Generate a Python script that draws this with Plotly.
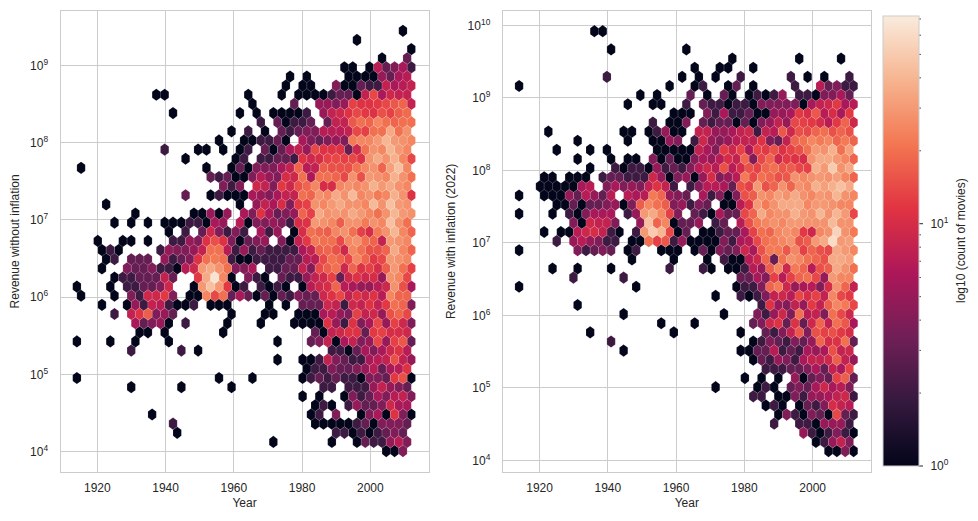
import math
import plotly.graph_objects as go

W, H = 978, 521

# Hex-bin grid: year of first bin, bin width, log10 revenue of rows
year_min = 1914.0
year_step = 2.45
left_log_bottom, left_log_step = 4.007, 0.1183
right_log_bottom, right_log_step = 4.128, 0.1259
n_rows = 47

# counts per hex: row (0 = top) -> {column: count}
left_rows = {
0:{39:1},
1:{33:1},
2:{40:1},
3:{36:1,39:3},
4:{32:1,33:1,35:1,36:7,37:3,38:4,39:6,40:2},
5:{25:1,27:1,32:1,33:1,34:1,35:1,36:5,37:3,38:6,39:7},
6:{25:1,27:1,28:1,31:4,32:1,33:1,34:3,35:2,36:2,37:8,38:6,39:7,40:8},
7:{9:1,10:1,20:1,24:1,26:1,27:1,28:1,29:1,30:2,31:3,32:3,33:1,34:8,35:14,36:6,37:9,38:8,39:8},
8:{21:1,26:3,29:5,30:5,31:4,32:5,33:13,34:11,35:11,36:12,37:14,38:16,39:18,40:8},
9:{11:1,19:1,21:1,23:1,24:1,25:1,26:1,27:2,29:5,30:8,31:9,32:11,33:14,34:12,35:11,36:15,37:13,38:17,39:19},
10:{22:2,24:3,25:1,26:2,27:2,28:3,30:3,31:8,32:8,33:16,34:20,35:18,36:25,37:20,38:18,39:20,40:20},
11:{18:1,20:2,22:1,24:3,25:2,26:3,27:4,28:4,29:7,30:7,31:7,32:8,33:14,34:13,35:20,36:20,37:35,38:20,39:28},
12:{17:1,20:1,21:1,22:2,23:2,24:3,25:1,27:6,28:4,29:3,30:4,31:5,32:4,33:22,34:25,35:25,36:30,37:40,38:30,39:28,40:25},
13:{10:2,14:1,15:1,17:1,19:1,20:2,22:3,23:1,24:3,25:6,26:8,27:5,28:14,29:11,30:11,31:11,32:3,33:9,34:20,35:28,36:25,37:40,38:30,39:25},
14:{13:1,19:1,20:2,22:2,23:2,24:3,25:3,26:2,27:11,28:9,29:10,30:13,31:14,32:13,33:14,34:11,35:28,36:35,37:28,38:38,39:25,40:14},
15:{0:1,15:1,18:1,19:3,20:1,21:4,22:4,23:4,24:6,25:8,26:18,27:7,28:8,29:17,30:15,31:15,32:15,33:20,34:25,35:28,36:18,37:32,38:45,39:25},
16:{16:3,17:2,18:3,19:1,20:1,21:4,22:7,23:5,24:4,25:10,26:9,27:20,28:6,29:20,30:20,31:18,32:14,33:28,34:15,35:30,36:28,37:25,38:38,39:28,40:20},
17:{17:4,18:2,19:4,21:9,22:8,23:4,24:12,25:9,26:15,27:18,28:25,29:10,30:10,31:25,32:28,33:25,34:28,35:38,36:30,37:35,38:28,39:25},
18:{13:3,16:1,17:2,18:1,19:1,20:1,21:6,22:5,23:4,24:6,25:8,26:8,27:20,28:18,29:28,30:25,31:35,32:28,33:42,34:25,35:28,36:22,37:25,38:38,39:28,40:11},
19:{3:1,19:1,21:5,22:8,23:6,24:10,25:4,26:12,27:13,28:28,29:25,30:30,31:35,32:28,33:28,34:25,35:42,36:28,37:45,38:30,39:28},
20:{7:1,14:1,15:1,16:5,17:1,18:5,20:6,21:4,22:11,23:6,24:3,25:4,26:5,27:18,28:13,29:35,30:28,31:30,32:28,33:35,34:30,35:25,36:20,37:28,38:40,39:30,40:28},
21:{4:1,6:1,8:1,10:1,11:1,12:1,13:2,14:2,15:1,16:6,17:5,19:7,20:1,21:4,22:4,23:5,24:4,25:2,26:10,27:11,28:30,29:28,30:25,31:17,32:28,33:28,34:22,35:28,36:25,37:45,38:28,39:20},
22:{11:1,13:2,15:3,16:9,17:4,18:2,19:4,20:2,22:6,23:2,24:5,26:1,27:10,28:20,29:18,30:17,31:25,32:28,33:20,34:13,35:10,36:22,37:28,38:40,39:25,40:18},
23:{2:1,5:1,6:1,8:1,11:2,12:2,13:5,14:4,15:11,16:15,17:11,18:4,19:1,20:3,21:4,22:5,24:4,25:1,26:8,27:12,28:22,29:20,30:20,31:14,32:25,33:28,34:20,35:18,36:8,37:30,38:28,39:25},
24:{3:1,4:2,5:1,10:2,11:5,12:4,13:4,14:5,15:8,16:20,17:20,18:7,19:2,20:5,21:2,22:3,23:2,24:2,25:2,26:2,27:6,28:8,29:17,30:18,31:15,32:9,33:25,34:20,35:15,36:15,37:18,38:35,39:25,40:18},
25:{3:1,4:2,6:3,7:3,8:3,10:5,11:2,12:3,13:4,14:11,15:20,16:22,17:20,18:2,19:1,20:1,21:2,22:2,23:2,24:2,25:3,26:3,27:7,28:7,29:14,30:20,31:18,32:14,33:25,34:18,35:12,36:14,37:30,38:28,39:25},
26:{3:1,6:4,7:3,8:3,9:4,10:2,11:2,12:1,13:7,14:9,15:30,16:35,17:28,18:20,19:4,20:4,21:6,23:2,24:2,25:3,26:3,27:8,28:4,29:14,30:17,31:20,32:9,33:18,34:11,35:13,36:10,37:17,38:30,39:20,40:13},
27:{4:1,5:2,6:2,7:3,8:3,9:3,10:8,11:3,14:12,15:35,16:65,17:25,18:1,20:4,21:2,22:1,24:3,25:2,26:2,27:5,28:8,29:9,30:13,31:3,32:9,33:11,34:9,35:10,36:5,37:28,38:25,39:14},
28:{0:1,4:1,6:2,7:2,8:3,9:3,10:4,11:9,14:1,15:30,16:45,17:30,18:12,19:1,20:2,22:2,23:1,24:2,25:1,27:1,28:7,29:9,30:10,31:18,32:7,33:6,34:5,35:5,36:7,37:9,38:28,39:15,40:6},
29:{0:1,4:1,6:4,7:2,8:9,9:9,10:12,11:4,13:1,14:1,15:25,16:14,17:20,18:3,19:6,20:3,21:1,22:3,23:1,24:3,25:2,26:4,27:3,28:3,29:9,30:11,31:14,32:8,33:11,34:9,35:11,36:7,37:25,38:18,39:18},
30:{3:1,6:1,7:5,8:2,9:8,10:7,11:2,12:1,13:1,14:2,16:1,17:1,18:1,23:1,25:1,27:3,28:3,29:3,30:9,31:8,32:2,33:9,34:8,35:11,36:8,37:12,38:20,39:18,40:4},
31:{4:2,6:8,7:11,8:17,9:4,10:5,11:3,18:1,22:1,23:1,26:1,27:1,28:1,29:6,30:7,31:5,32:4,33:13,34:8,35:9,36:5,37:15,38:18,39:14},
32:{7:6,8:3,9:4,10:5,11:1,13:2,18:1,22:1,26:1,27:1,28:1,29:1,30:11,31:5,32:2,33:11,34:4,35:6,36:14,37:5,38:13,39:9,40:4},
33:{7:1,8:1,10:1,17:1,28:3,29:1,30:8,31:9,32:11,33:11,34:3,35:12,36:13,37:10,38:10,39:9},
34:{0:1,4:1,7:1,11:1,24:1,28:3,29:4,30:8,31:1,32:6,33:8,34:4,35:5,36:14,37:5,38:13,39:16,40:3},
35:{6:2,12:2,14:1,30:2,31:2,32:1,33:3,34:6,35:4,36:6,37:9,38:11,39:7},
36:{24:1,27:1,28:1,29:2,30:8,31:4,32:3,33:2,34:2,35:6,36:7,37:8,38:15,39:8,40:5},
37:{27:1,28:2,29:2,30:4,31:3,32:3,33:4,34:5,35:7,36:3,37:6,38:7,39:11},
38:{0:1,17:1,21:1,27:1,28:2,29:3,30:2,31:3,32:2,33:2,34:1,35:4,36:4,37:3,38:12,39:15,40:1},
39:{6:1,12:1,18:1,29:2,30:2,32:2,33:2,34:2,35:5,36:8,37:5,38:4,39:3},
40:{27:1,29:1,32:1,33:4,34:2,35:3,36:6,37:4,38:7,39:8,40:4},
41:{28:1,29:2,30:1,32:2,33:5,34:3,35:3,36:4,37:9,38:6,39:6},
42:{9:1,28:1,29:2,31:4,34:1,35:4,36:6,37:1,38:11,39:4,40:1},
43:{11:2,28:1,29:1,30:1,31:1,32:1,33:2,34:3,35:1,36:4,37:4,38:4,39:3},
44:{12:1,31:2,32:2,33:1,34:2,35:1,36:2,37:3,38:4,39:3},
45:{23:1,30:1,33:1,34:3,35:2,36:2,37:5,38:7,39:4},
46:{37:1,38:1,39:4},
}

right_rows = {
0:{9:1,10:1},
2:{11:1,20:1},
3:{25:1,33:1,38:1},
4:{21:1,24:1,25:1,28:1},
5:{10:2,19:1,21:1,23:1,26:2,32:2,34:1,36:1,39:2},
6:{0:1,18:1,21:1,22:2,25:1,26:3,28:1,33:2,36:7,37:3,38:4,39:2,40:2},
7:{14:1,16:1,20:3,22:1,24:3,25:1,27:1,28:2,29:1,30:2,31:5,33:2,34:2,35:1,36:4,37:4,38:6,39:3},
8:{13:1,16:1,17:1,20:2,22:3,23:2,24:2,25:1,26:2,27:2,28:1,29:4,30:4,31:4,32:4,33:4,34:1,35:6,36:8,37:9,38:12,39:6,40:7},
9:{18:1,19:1,20:1,22:4,23:2,24:6,25:2,26:2,27:3,28:1,29:1,30:5,31:5,32:6,33:12,34:10,35:16,36:7,37:10,38:6,39:12},
10:{16:2,18:1,19:1,20:4,22:3,23:2,24:3,25:3,26:1,27:3,28:1,29:4,30:5,31:8,32:5,33:14,34:13,35:12,36:10,37:7,38:12,39:18,40:9},
11:{3:1,12:1,13:1,15:1,16:2,17:5,18:1,19:1,21:8,22:8,23:5,24:5,25:6,26:8,27:9,28:2,29:8,30:7,31:16,32:9,33:15,34:14,35:18,36:20,37:15,38:18,39:15},
12:{7:1,13:1,16:1,17:1,18:5,19:4,21:2,22:9,23:5,24:4,25:5,26:7,27:8,28:8,29:11,30:4,31:3,32:8,33:18,34:20,35:25,36:22,37:25,38:18,39:22,40:18},
13:{4:1,8:1,10:1,16:1,17:1,18:1,19:1,20:1,21:8,22:6,23:4,24:12,25:9,26:13,27:6,28:13,29:12,30:15,31:11,32:13,33:15,34:20,35:30,36:28,37:38,38:20,39:32},
14:{7:1,11:1,13:1,14:1,16:4,17:1,18:3,19:1,20:1,21:4,22:6,23:5,24:7,25:10,26:8,27:18,28:4,29:14,30:18,31:9,32:12,33:11,34:10,35:28,36:35,37:35,38:30,39:25,40:18},
15:{8:1,11:2,12:1,13:2,14:2,15:1,16:5,17:2,18:3,19:2,20:4,21:7,22:9,23:7,24:15,25:7,26:10,27:15,28:13,29:18,30:20,31:16,32:17,33:14,34:13,35:38,36:30,37:50,38:28,39:35},
16:{3:1,4:1,6:1,7:1,8:1,10:2,11:3,12:3,13:2,14:2,15:2,16:9,17:5,18:1,19:4,20:5,21:1,22:5,23:10,24:4,25:5,26:7,27:22,28:14,29:20,30:18,31:15,32:16,33:28,34:25,35:28,36:30,37:28,38:32,39:25,40:18},
17:{2:1,3:1,4:1,5:1,6:1,7:6,8:7,10:4,11:6,12:4,13:5,14:4,15:8,16:11,17:8,18:2,20:2,21:4,22:7,23:7,24:6,25:3,26:15,27:13,28:30,29:15,30:18,31:28,32:18,33:28,34:25,35:38,36:32,37:38,38:45,39:35},
18:{0:1,3:1,4:1,5:1,6:5,7:3,8:7,9:5,10:3,11:7,13:7,14:6,15:7,16:22,17:18,18:5,19:4,20:3,22:6,23:2,24:4,25:1,26:4,27:15,28:17,29:28,30:25,31:32,32:28,33:35,34:28,35:25,36:30,37:28,38:40,39:28,40:25},
19:{4:1,5:1,6:3,7:1,8:3,9:3,10:4,11:5,12:1,13:4,14:17,15:25,16:20,17:17,18:4,19:5,20:2,21:4,22:3,24:1,25:1,26:7,27:11,28:30,29:22,30:28,31:35,32:35,33:35,34:25,35:30,36:30,37:28,38:25,39:25},
20:{0:1,4:1,6:2,7:1,8:4,9:6,10:6,11:6,13:2,14:5,15:30,16:35,17:25,18:13,19:4,21:3,22:2,23:1,24:6,25:3,26:3,27:14,28:18,29:35,30:25,31:28,32:28,33:38,34:30,35:28,36:40,37:28,38:40,39:30,40:14},
21:{6:4,7:1,8:9,9:8,10:8,11:4,14:5,15:45,16:18,17:25,18:1,19:3,20:3,21:5,23:2,24:3,26:7,27:15,28:22,29:25,30:28,31:25,32:30,33:30,34:28,35:28,36:28,37:42,38:28,39:28},
22:{3:1,5:1,6:1,7:7,8:9,9:10,10:8,11:2,12:1,14:2,15:30,16:50,17:40,18:14,19:1,20:3,22:1,23:1,24:2,25:3,26:3,27:6,28:13,29:20,30:18,31:25,32:28,33:25,34:12,35:9,36:25,37:28,38:55,39:28,40:22},
23:{4:2,6:5,7:7,8:5,9:4,10:2,11:2,13:1,14:1,15:20,16:13,17:16,18:2,19:5,20:1,21:1,22:1,23:1,24:4,25:2,26:6,27:7,28:14,29:20,30:22,31:25,32:28,33:15,34:17,35:30,36:35,37:60,38:30,39:32},
24:{0:1,7:4,8:2,9:3,10:4,11:3,13:1,14:2,17:1,18:1,19:1,21:1,22:3,23:1,24:4,25:3,26:4,27:9,28:6,29:15,30:22,31:22,32:16,33:25,34:13,35:18,36:15,37:14,38:35,39:30,40:25},
25:{13:1,18:1,22:1,24:2,25:1,26:1,27:7,28:9,29:18,30:3,31:20,32:28,33:25,34:20,35:18,36:15,37:35,38:35,39:32},
26:{4:1,7:1,11:1,18:2,22:2,23:1,25:1,26:1,27:2,28:7,29:5,30:17,31:25,32:9,33:22,34:18,35:7,36:15,37:17,38:35,39:28,40:20},
27:{6:2,12:2,26:3,27:3,28:6,29:4,30:13,31:7,32:13,33:18,34:20,35:14,36:5,37:30,38:25,39:25},
28:{0:1,14:1,26:1,27:2,28:2,29:4,30:18,31:22,32:9,33:5,34:6,35:7,36:4,37:10,38:28,39:18,40:8},
29:{23:1,26:2,27:1,28:2,29:4,30:8,31:9,32:7,33:14,34:10,35:13,36:8,37:25,38:14,39:12},
30:{7:1,29:2,30:11,31:5,32:4,33:8,34:5,35:12,36:8,37:17,38:25,39:22,40:14},
31:{12:1,24:1,28:4,29:2,30:5,31:9,32:4,33:20,34:7,35:8,36:4,37:20,38:14,39:9},
32:{17:1,21:1,28:3,29:4,30:9,31:11,32:3,33:11,34:3,35:9,36:18,37:8,38:20,39:16,40:6},
33:{8:1,18:1,26:1,29:3,30:2,31:4,32:8,33:16,34:4,35:15,36:13,37:15,38:12,39:10},
34:{11:2,28:1,29:2,30:4,31:3,32:2,33:4,34:3,35:5,36:18,37:10,38:11,39:20,40:3},
35:{12:1,26:1,27:1,28:3,29:3,30:7,31:2,32:3,33:2,34:6,35:5,36:6,37:15,38:8,39:9},
36:{28:1,29:3,30:2,31:5,32:4,33:2,34:6,35:8,36:8,37:9,38:17,39:8,40:5},
37:{29:2,30:2,31:2,32:3,33:3,34:4,35:6,36:3,37:8,38:6,39:13},
38:{27:1,29:1,31:1,33:5,34:1,35:3,36:4,37:3,38:13,39:17,40:3},
39:{23:1,28:1,29:2,30:1,32:3,33:4,34:3,35:6,36:9,37:6,38:7,39:4},
40:{28:2,29:2,31:1,32:1,33:4,34:2,35:5,36:5,37:6,38:8,39:9,40:2},
41:{29:1,30:2,31:1,33:1,34:3,35:2,36:4,37:10,38:8,39:7},
42:{31:1,32:4,33:2,34:1,35:4,36:3,37:1,38:14,39:3,40:2},
43:{30:2,33:2,34:2,35:1,36:5,37:5,38:5,39:2},
44:{34:5,35:2,36:1,37:2,38:4,39:2,40:1},
45:{35:1,36:2,37:5,38:8,39:4},
46:{37:1,38:1,39:4,40:1},
}

year_ticks = [1920, 1940, 1960, 1980, 2000]
left_decades = [4, 5, 6, 7, 8, 9]
right_decades = [4, 5, 6, 7, 8, 9, 10]
count_max = 72
major_counts = [1, 10]
minor_counts = [2, 3, 4, 5, 6, 7, 8, 9, 20, 30, 40, 50, 60, 70]

rocket = ["#03051a", "#35193e", "#701f57", "#ad1759", "#e13342", "#f37651", "#f6b48f", "#faebdd"]
scale = [[i / 7, c] for i, c in enumerate(rocket)]
TXT = "#262626"
GRID = "#cccccc"
FONT = "Liberation Sans, Arial, sans-serif"
CB_LEFT, CB_RIGHT, CB_TOP, CB_BOTTOM = 882.5, 918.5, 16.0, 466.0


def rgb(h):
    return [int(h[i:i + 2], 16) for i in (1, 3, 5)]


def colour(count):
    t = math.log(count) / math.log(count_max)
    t = min(max(t, 0), 1) * 7
    i = min(int(t), 6)
    f = t - i
    a, b = rgb(rocket[i]), rgb(rocket[i + 1])
    return "rgb(%d,%d,%d)" % tuple(round(a[k] + (b[k] - a[k]) * f) for k in range(3))


def hex_traces(rows, log_bottom, log_step, xaxis, yaxis):
    groups = {}
    dx = year_step / 2
    for r, cols in rows.items():
        log_y = log_bottom + (n_rows - 1 - r) * log_step
        for c, n in cols.items():
            x = year_min + year_step * c + (dx if r % 2 else 0)
            xs = [x + dx, x + dx, x, x - dx, x - dx, x, x + dx, None]
            lv = [log_step / 3, -log_step / 3, -2 * log_step / 3, -log_step / 3,
                  log_step / 3, 2 * log_step / 3, log_step / 3]
            ys = [10 ** (log_y + d) for d in lv] + [None]
            g = groups.setdefault(n, ([], []))
            g[0].extend(xs)
            g[1].extend(ys)
    return [go.Scatter(x=g[0], y=g[1], mode="lines", fill="toself", fillcolor=colour(n),
                       line=dict(color="rgba(255,255,255,0.3)", width=0.4),
                       hoverinfo="skip", showlegend=False, xaxis=xaxis, yaxis=yaxis)
            for n, g in sorted(groups.items())]


fig = go.Figure()
for t in hex_traces(left_rows, left_log_bottom, left_log_step, "x", "y"):
    fig.add_trace(t)
for t in hex_traces(right_rows, right_log_bottom, right_log_step, "x2", "y2"):
    fig.add_trace(t)

log_max = math.log10(count_max)
fig.add_trace(go.Scatter(
    x=[None], y=[None], mode="markers", showlegend=False, hoverinfo="skip",
    marker=dict(color=[0, log_max], cmin=0, cmax=log_max,
                colorscale=scale, showscale=True,
                colorbar=dict(x=CB_LEFT / W, xanchor="left", xpad=0, y=(H - CB_BOTTOM) / H, yanchor="bottom",
                              ypad=0, len=CB_BOTTOM - CB_TOP, lenmode="pixels",
                              thickness=CB_RIGHT - CB_LEFT, thicknessmode="pixels",
                              outlinecolor=GRID, outlinewidth=1, tickmode="array",
                              tickvals=[0.0, 1.0], ticktext=["10<sup>0</sup>", "10<sup>1</sup>"],
                              ticks="outside", ticklen=9, tickwidth=1,
                              tickcolor="rgba(0,0,0,0)", tickfont=dict(family=FONT, size=12, color=TXT)))))

# ticks of the logarithmic colour bar: long at decades, short in between
cb_shapes = []
for counts, length, lw in ((major_counts, 4.5, 1.0), (minor_counts, 2.5, 0.8)):
    for m in counts:
        yy = (H - CB_BOTTOM + (CB_BOTTOM - CB_TOP) * math.log10(m) / log_max) / H
        cb_shapes.append(dict(type="line", xref="paper", yref="paper", x0=CB_RIGHT / W,
                              x1=(CB_RIGHT + length) / W, y0=yy, y1=yy, line=dict(color=TXT, width=lw)))


def xax(domain):
    return dict(domain=[d / W for d in domain], range=[1909.2, 2017.1], tickvals=year_ticks,
                showgrid=True, gridcolor=GRID, gridwidth=1, showline=True, linecolor=GRID, linewidth=1,
                mirror=True, ticks="outside", ticklen=4, tickcolor="rgba(0,0,0,0)", zeroline=False,
                tickfont=dict(family=FONT, size=12, color=TXT),
                title=dict(text="Year", font=dict(family=FONT, size=12, color=TXT), standoff=4))


def yax(rng, decades, label, anchor, standoff):
    return dict(domain=[(H - 472.3) / H, (H - 10.5) / H], type="log", range=rng,
                tickvals=[10 ** d for d in decades], ticktext=["10<sup>%d</sup>" % d for d in decades],
                showgrid=True, gridcolor=GRID, gridwidth=1, showline=True, linecolor=GRID, linewidth=1,
                mirror=True, ticks="outside", ticklen=9, tickcolor="rgba(0,0,0,0)", zeroline=False,
                anchor=anchor, tickfont=dict(family=FONT, size=12, color=TXT),
                title=dict(text=label, font=dict(family=FONT, size=12, color=TXT), standoff=standoff))


fig.update_layout(
    width=W, height=H, margin=dict(l=0, r=0, t=0, b=0), paper_bgcolor="white", plot_bgcolor="white",
    showlegend=False, shapes=cb_shapes,
    xaxis=xax([60.5, 428.7]), xaxis2=dict(xax([502.7, 871]), anchor="y2"),
    yaxis=yax([3.732, 9.712], left_decades, "Revenue without inflation", "x", 7),
    yaxis2=yax([3.835, 10.205], right_decades, "Revenue with inflation (2022)", "x2", 9),
    annotations=[dict(text="log10 (count of movies)", x=961 / W, y=1 - 241 / H, xref="paper", yref="paper",
                      xanchor="center", yanchor="middle",
                      textangle=-90, showarrow=False, font=dict(family=FONT, size=12, color=TXT))],
)
fig.write_html("out.html", config={"displayModeBar": False},
               post_script="document.body.style.margin='0';document.body.style.overflow='hidden';")
